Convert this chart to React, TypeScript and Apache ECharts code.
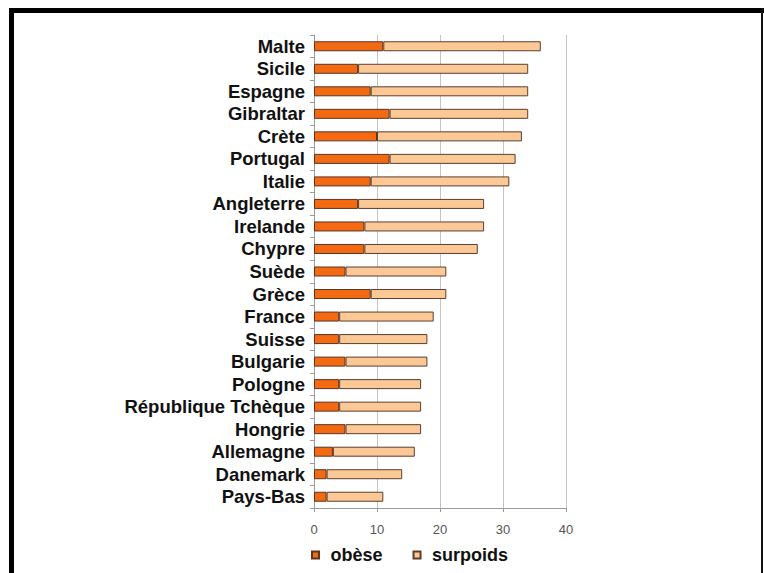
import React, { useEffect, useRef } from "react";
import * as echarts from "echarts";

// Countries, top to bottom
const countries = [
  "Malte", "Sicile", "Espagne", "Gibraltar", "Crète", "Portugal", "Italie",
  "Angleterre", "Irelande", "Chypre", "Suède", "Grèce", "France", "Suisse",
  "Bulgarie", "Pologne", "République Tchèque", "Hongrie", "Allemagne",
  "Danemark", "Pays-Bas",
];

// Share of obese people (%)
const obese = [11, 7, 9, 12, 10, 12, 9, 7, 8, 8, 5, 9, 4, 4, 5, 4, 4, 5, 3, 2, 2];

// Share of overweight people (%), stacked after the obese share
const overweight = [25, 27, 25, 22, 23, 20, 22, 20, 19, 18, 16, 12, 15, 14, 13, 13, 13, 12, 13, 12, 9];

const xTicks = [0, 10, 20, 30, 40];

const FONT = "'Liberation Sans', Arial, Helvetica, sans-serif";

export default function App() {
  const ref = useRef<HTMLDivElement>(null);

  useEffect(() => {
    if (!ref.current) return;
    const chart = echarts.init(ref.current, null, { renderer: "svg" });
    const square = "path://M0,0H10V10H0Z";
    chart.setOption({
      animation: false,
      backgroundColor: "#ffffff",
      grid: { left: 314, right: 198, top: 35, bottom: 65, containLabel: false },
      xAxis: {
        type: "value",
        min: xTicks[0],
        max: xTicks[xTicks.length - 1],
        interval: 10,
        axisLine: { show: true, lineStyle: { color: "#9a9a9a", width: 1 } },
        axisTick: { show: true, length: 4, lineStyle: { color: "#9a9a9a" } },
        axisLabel: { color: "#555555", fontSize: 13, fontFamily: FONT, margin: 15 },
        splitLine: { show: true, lineStyle: { color: "#c4c4c4", width: 1 } },
      },
      yAxis: {
        type: "category",
        data: countries,
        inverse: true,
        axisLine: { show: true, lineStyle: { color: "#9a9a9a", width: 1 } },
        axisTick: { show: true, length: 4, lineStyle: { color: "#9a9a9a" } },
        axisLabel: {
          interval: 0,
          color: "#111111",
          fontSize: 18.5,
          fontWeight: "bold",
          fontFamily: FONT,
          margin: 9,
        },
        splitLine: { show: false },
      },
      legend: {
        left: 306,
        top: 541,
        itemWidth: 20,
        itemHeight: 7,
        itemGap: 30,
        textStyle: { color: "#111111", fontSize: 18, fontWeight: "bold", fontFamily: FONT },
        data: [
          { name: "obèse", icon: square },
          { name: "surpoids", icon: square },
        ],
      },
      series: [
        {
          name: "obèse",
          type: "bar",
          stack: "total",
          data: obese,
          barWidth: 10,
          itemStyle: { color: "#f36a12", borderColor: "#5a3424", borderWidth: 1 },
        },
        {
          name: "surpoids",
          type: "bar",
          stack: "total",
          data: overweight,
          barWidth: 10,
          itemStyle: { color: "#fcc896", borderColor: "#5a3f30", borderWidth: 1 },
        },
      ],
      graphic: [
        // picture frame: heavy top and left edges, thin right edge
        { type: "rect", shape: { x: 9, y: 8, width: 755, height: 5 }, style: { fill: "#000000" } },
        { type: "rect", shape: { x: 9, y: 8, width: 5, height: 565 }, style: { fill: "#000000" } },
        { type: "rect", shape: { x: 761, y: 8, width: 2, height: 565 }, style: { fill: "#111111" } },
      ],
    });
    return () => chart.dispose();
  }, []);

  return (
    <div
      ref={ref}
      style={{ position: "fixed", left: 0, top: 0, width: 764, height: 573, background: "#fff" }}
    />
  );
}
